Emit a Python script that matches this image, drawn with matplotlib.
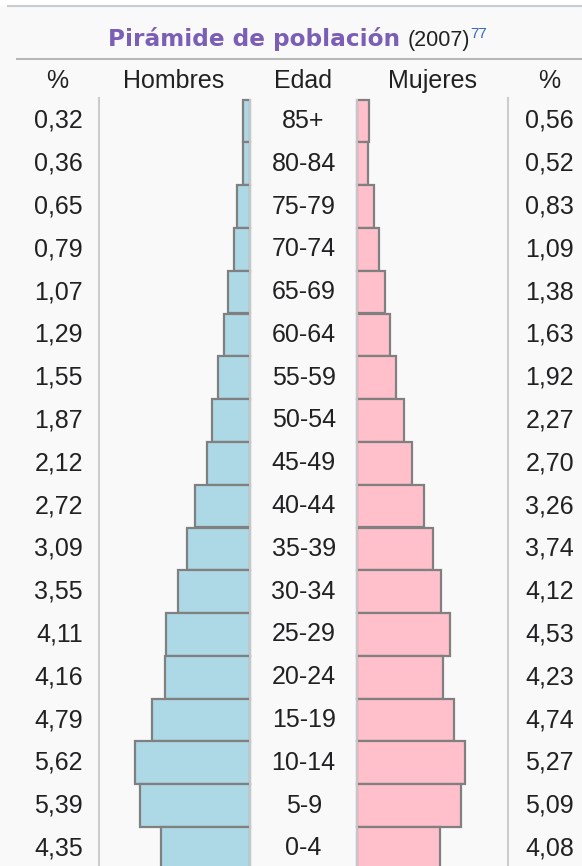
import numpy as np
import matplotlib
matplotlib.use("Agg")
from matplotlib import pyplot as plt
from matplotlib.lines import Line2D
from matplotlib.patches import Rectangle

# data (2007)
edades = ["85+", "80-84", "75-79", "70-74", "65-69", "60-64", "55-59", "50-54",
          "45-49", "40-44", "35-39", "30-34", "25-29", "20-24", "15-19",
          "10-14", "5-9", "0-4"]
hombres = [0.32, 0.36, 0.65, 0.79, 1.07, 1.29, 1.55, 1.87, 2.12, 2.72,
           3.09, 3.55, 4.11, 4.16, 4.79, 5.62, 5.39, 4.35]
mujeres = [0.56, 0.52, 0.83, 1.09, 1.38, 1.63, 1.92, 2.27, 2.70, 3.26,
           3.74, 4.12, 4.53, 4.23, 4.74, 5.27, 5.09, 4.08]
encabezados = ["%", "Hombres", "Edad", "Mujeres", "%"]

W, H = 582, 866
BG = "#f9f9f9"
TXT = "#202122"
FONT = "Liberation Sans"
FS = 18

def fx(px):
    return px / W

def fy(py):
    return 1 - py / H

fig = plt.figure(figsize=(W / 100, H / 100), dpi=100)
fig.patch.set_facecolor(BG)
ax = fig.add_axes([0, 0, 1, 1])
ax.set_facecolor(BG)
ax.axis("off")

# scale: ~20.4 px per %, pyramid centred at x=303.6 px, rows 42.8 px apart
scale = 20.4
cx = 303.6
gap = 53.6 / scale
row = 42.8
y0 = 120.9
ax.set_xlim(-cx / scale, (W - cx) / scale)
ax.set_ylim((H - y0) / row, -y0 / row)

y = np.arange(len(edades))
h = np.array(hombres)
m = np.array(mujeres)
ax.barh(y, -h, left=-gap, height=1.0, color="#add8e6", edgecolor="#808080",
        linewidth=1.6, zorder=2)
ax.barh(y, m, left=gap, height=1.0, color="#ffc0cb", edgecolor="#808080",
        linewidth=1.6, zorder=2)
ax.vlines([-gap, gap], -0.5, len(edades) - 0.5, color="#c8c8c8",
          linewidth=1.4, zorder=3)

tr = ax.get_yaxis_transform()
for i, (e, a, b) in enumerate(zip(edades, hombres, mujeres)):
    ax.text(0, i, e, ha="center", va="center", fontsize=FS, family=FONT, color=TXT)
    ax.text(fx(83), i, f"{a:.2f}".replace(".", ","), transform=tr, ha="right",
            va="center", fontsize=FS, family=FONT, color=TXT)
    ax.text(fx(574), i, f"{b:.2f}".replace(".", ","), transform=tr, ha="right",
            va="center", fontsize=FS, family=FONT, color=TXT)

# header row
for xc, lab in zip([57, 174, 303, 432, 549], encabezados):
    fig.text(fx(xc), fy(81), lab, ha="center", va="center", fontsize=FS,
             family=FONT, color=TXT)

# top strip and rules
fig.add_artist(Rectangle((0, fy(6)), 1, 1 - fy(6), transform=fig.transFigure,
                         facecolor="white", edgecolor="none"))
fig.add_artist(Line2D([fx(8), 1], [fy(6), fy(6)], transform=fig.transFigure,
                      color="#c8ccd1", linewidth=1.5))
fig.add_artist(Line2D([fx(17), 1], [fy(59), fy(59)], transform=fig.transFigure,
                      color="#b8b8b8", linewidth=1.5))
for xl in [99, 508]:
    fig.add_artist(Line2D([fx(xl), fx(xl)], [fy(98), 0], transform=fig.transFigure,
                          color="#cccccc", linewidth=1.5))

# title
fig.text(fx(108), fy(46), "Pirámide de población", ha="left", va="baseline",
         fontsize=16.7, fontweight="bold", family="DejaVu Sans", color="#7b5eb6")
fig.text(fx(408), fy(46), "(2007)", ha="left", va="baseline", fontsize=15.5,
         family=FONT, color=TXT)
fig.text(fx(470), fy(38), "77", ha="left", va="baseline", fontsize=11,
         family=FONT, color="#3366cc")

fig.savefig("out.png", dpi=100, facecolor=fig.get_facecolor())
